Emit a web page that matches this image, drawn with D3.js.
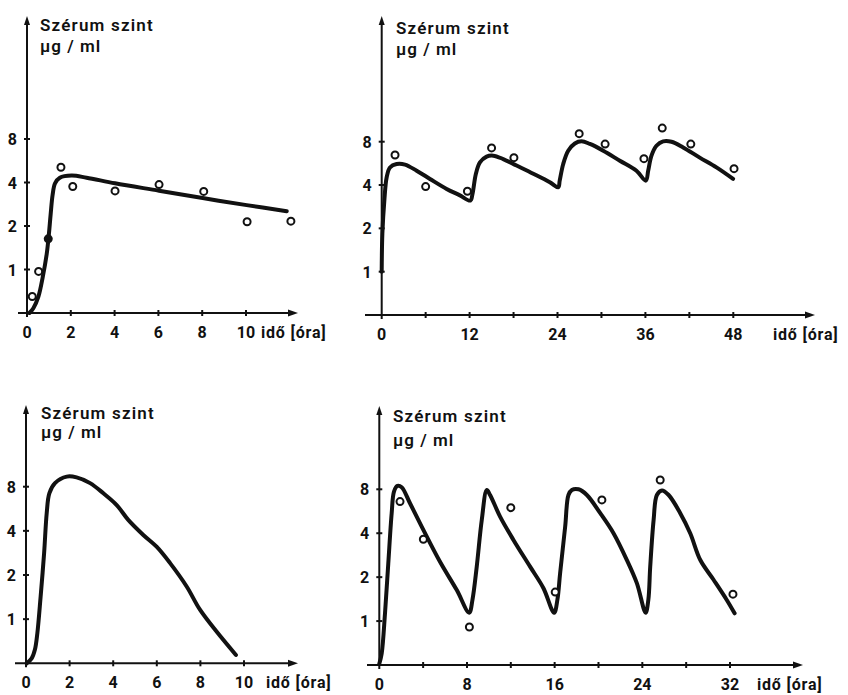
<!DOCTYPE html>
<html>
<head>
<meta charset="utf-8">
<script src="https://cdn.jsdelivr.net/npm/d3@7"></script>
<style>
  body { margin: 0; background: #fff; }
  svg text { font-family: Roboto, "Liberation Sans", sans-serif; font-weight: 700; fill: #111; }
</style>
</head>
<body>
<svg id="chart" width="848" height="695"></svg>
<script>
// y ticks (log2 spacing, 0 sits one step below 1)
var yTicks = [1, 2, 4, 8];

// panel A: single dose, measured + fitted
var aTickLabels = [0, 2, 4, 6, 8, 10];
var aTickMarks = [0, 2, 4, 6, 8, 10];
var aCurve = [[0.11,0.5],[0.29,0.54],[0.52,0.65],[0.72,0.89],[0.9,1.28],[1.0,1.76],[1.08,2.41],[1.17,3.29],
  [1.28,3.95],[1.5,4.32],[2.04,4.47],[2.72,4.32],[4.02,3.95],[6.03,3.51],[8.02,3.12],[10.03,2.79],[11.86,2.53]];
var aPoints = [[0.24,0.65],[0.53,0.97],[1.55,5.1],[2.09,3.75],[4.02,3.5],[6.03,3.87],[8.07,3.47],[10.05,2.14],[12.05,2.16]];
var aFilled = [[0.97,1.63]];

// panel B: repeated dose every 12 h
var bTickLabels = [0, 12, 24, 36, 48];
var bTickMarks = [0, 6, 12, 18, 24, 30, 36, 42, 48];
var bCurve = [[0,1.0],[0.09,1.84],[0.36,3.12],[0.68,4.53],[1.13,5.3],[2.04,5.6],[3.18,5.55],[4.77,5.03],[6.59,4.41],
  [8.86,3.76],[10.68,3.39],[12.1,3.12],[12.4,3.48],[12.86,4.79],[13.41,5.74],[14.32,6.3],[15.23,6.4],[16.59,6.06],
  [18.41,5.46],[20.69,4.79],[22.96,4.18],[24.1,3.86],[24.3,4.29],[24.78,5.6],[25.46,6.93],[26.37,7.78],[27.28,8.05],
  [28.42,7.72],[30.24,6.93],[32.51,5.9],[34.78,5.03],[36.06,4.29],[36.38,5.03],[36.83,6.4],[37.51,7.5],[38.42,8.05],
  [39.56,8.0],[41.15,7.3],[43.42,6.2],[45.7,5.3],[47.97,4.41]];
var bPoints = [[1.82,6.47],[6.0,3.9],[11.7,3.62],[15.0,7.24],[18.05,6.2],[26.96,9.1],[30.5,7.7],[35.8,6.1],[38.3,9.95],[42.2,7.7],[48.1,5.2]];

// panel C: single dose curve
var cTickLabels = [0, 2, 4, 6, 8, 10];
var cTickMarks = [0, 2, 4, 6, 8, 10];
var cCurve = [[0.03,0.5],[0.26,0.54],[0.41,0.62],[0.52,0.8],[0.67,1.42],[0.83,2.81],[0.95,5.28],[1.07,7.21],[1.33,8.46],
  [1.87,9.37],[2.32,9.26],[2.94,8.46],[3.55,7.21],[4.16,6.0],[4.69,4.75],[5.38,3.75],[5.99,3.12],[6.61,2.41],
  [7.37,1.67],[7.98,1.16],[8.75,0.82],[9.63,0.57]];

// panel D: repeated dose every 8 h
var dTickLabels = [0, 8, 16, 24, 32];
var dTickMarks = [0, 4, 8, 12, 16, 20, 24, 28, 32];
var dCurve = [[0,0.51],[0.22,0.6],[0.52,1.13],[0.82,2.49],[1.13,5.49],[1.34,7.72],[1.65,8.44],[2.04,8.27],[2.8,6.42],
  [4.02,4.22],[5.54,2.55],[7.07,1.63],[8.2,1.14],[8.5,1.4],[8.89,2.36],[9.35,4.93],[9.81,7.92],[10.11,7.31],
  [11.02,5.2],[12.24,3.6],[13.76,2.36],[14.98,1.68],[15.95,1.14],[16.25,1.4],[16.5,2.13],[16.96,4.44],[17.26,7.31],
  [17.57,7.92],[18.18,8.0],[18.94,7.31],[20.16,5.49],[21.37,4.0],[22.59,2.62],[23.5,1.82],[24.3,1.14],[24.55,1.4],
  [24.72,2.36],[25.03,4.93],[25.33,7.31],[25.79,7.85],[26.4,7.31],[27.46,5.49],[28.37,4.0],[29.29,2.62],[30.5,1.92],
  [31.72,1.39],[32.42,1.13]];
var dPoints = [[1.89,6.59],[4.02,3.64],[8.22,0.91],[12.0,5.99],[16.05,1.58],[20.31,6.77],[25.63,9.27],[32.27,1.53]];

var svg = d3.select("#chart");

var panels = [
  {x0: 27, x1: 246, xMax: 10, yBase: 313, y8: 139, top: 16, right: 298, left: 18,
   titleX: 40, titleY: 31, unitY: 52, labelX: 261,
   ticks: aTickMarks, labels: aTickLabels, curve: aCurve, points: aPoints, filled: aFilled},
  {x0: 381.7, x1: 733.3, xMax: 48, yBase: 315, y8: 141.7, top: 16, right: 815, left: 365,
   titleX: 396, titleY: 34, unitY: 55, labelX: 773,
   ticks: bTickMarks, labels: bTickLabels, curve: bCurve, points: bPoints, filled: []},
  {x0: 26, x1: 244, xMax: 10, yBase: 663.3, y8: 486.7, top: 405, right: 298, left: 15,
   titleX: 41, titleY: 419, unitY: 438, labelX: 266,
   ticks: cTickMarks, labels: cTickLabels, curve: cCurve, points: [], filled: []},
  {x0: 379.3, x1: 730, xMax: 32, yBase: 665, y8: 489.3, top: 406, right: 803, left: 367,
   titleX: 393, titleY: 422, unitY: 446, labelX: 757,
   ticks: dTickMarks, labels: dTickLabels, curve: dCurve, points: dPoints, filled: []}
];

panels.forEach(function(p) {
  var xScale = d3.scaleLinear().domain([0, p.xMax]).range([p.x0, p.x1]);
  var yScale = d3.scaleLog().base(2).domain([0.5, 8]).range([p.yBase, p.y8]);

  var g = svg.append("g");

  // axes lines
  g.append("line")
    .attr("x1", p.x0).attr("x2", p.x0)
    .attr("y1", p.yBase + 4).attr("y2", p.top + 6)
    .attr("stroke", "#111").attr("stroke-width", 2);
  g.append("path")
    .attr("d", `M${p.x0},${p.top} L${p.x0 - 3},${p.top + 9} L${p.x0 + 3},${p.top + 9} Z`)
    .attr("fill", "#111");
  g.append("line")
    .attr("x1", p.left).attr("x2", p.right - 6)
    .attr("y1", p.yBase).attr("y2", p.yBase)
    .attr("stroke", "#111").attr("stroke-width", 2);
  g.append("path")
    .attr("d", `M${p.right},${p.yBase} L${p.right - 10},${p.yBase - 3.5} L${p.right - 10},${p.yBase + 3.5} Z`)
    .attr("fill", "#111");

  // y ticks
  yTicks.forEach(function(t) {
    g.append("line")
      .attr("x1", p.x0 - 3).attr("x2", p.x0 + 3)
      .attr("y1", yScale(t)).attr("y2", yScale(t))
      .attr("stroke", "#111").attr("stroke-width", 2);
    g.append("text")
      .attr("x", p.x0 - 10).attr("y", yScale(t) + 6)
      .attr("text-anchor", "end")
      .style("font-size", "16px")
      .text(t);
  });

  // x ticks
  p.ticks.forEach(function(t) {
    if (t === 0) return;
    g.append("line")
      .attr("x1", xScale(t)).attr("x2", xScale(t))
      .attr("y1", p.yBase - 3).attr("y2", p.yBase + 3)
      .attr("stroke", "#111").attr("stroke-width", 2);
  });
  p.labels.forEach(function(t) {
    g.append("text")
      .attr("x", xScale(t)).attr("y", p.yBase + 25)
      .attr("text-anchor", "middle")
      .style("font-size", "16px")
      .text(t);
  });
  g.append("text")
    .attr("x", p.labelX).attr("y", p.yBase + 25)
    .style("font-size", "16px")
    .style("letter-spacing", "0.8px")
    .text("idő [óra]");

  // axis title
  g.append("text")
    .attr("x", p.titleX).attr("y", p.titleY)
    .style("font-size", "17px").style("font-weight", "600")
    .style("letter-spacing", "1.2px")
    .text("Szérum szint");
  g.append("text")
    .attr("x", p.titleX).attr("y", p.unitY)
    .style("font-size", "17px").style("font-weight", "600")
    .style("letter-spacing", "1px")
    .text("μg / ml");

  // curve
  var line = d3.line()
    .x(d => xScale(d[0]))
    .y(d => yScale(d[1]))
    .curve(d3.curveCatmullRom.alpha(0.5));
  g.append("path")
    .datum(p.curve)
    .attr("d", line)
    .attr("fill", "none")
    .attr("stroke", "#111")
    .attr("stroke-width", 4)
    .attr("stroke-linejoin", "round")
    .attr("stroke-linecap", "round");

  // measured points
  g.selectAll("circle.open")
    .data(p.points)
    .enter()
    .append("circle")
    .attr("class", "open")
    .attr("cx", d => xScale(d[0]))
    .attr("cy", d => yScale(d[1]))
    .attr("r", 3.5)
    .attr("fill", "#fff")
    .attr("stroke", "#111")
    .attr("stroke-width", 2);
  g.selectAll("circle.filled")
    .data(p.filled)
    .enter()
    .append("circle")
    .attr("class", "filled")
    .attr("cx", d => xScale(d[0]))
    .attr("cy", d => yScale(d[1]))
    .attr("r", 4.5)
    .attr("fill", "#111");
});
</script>
</body>
</html>
